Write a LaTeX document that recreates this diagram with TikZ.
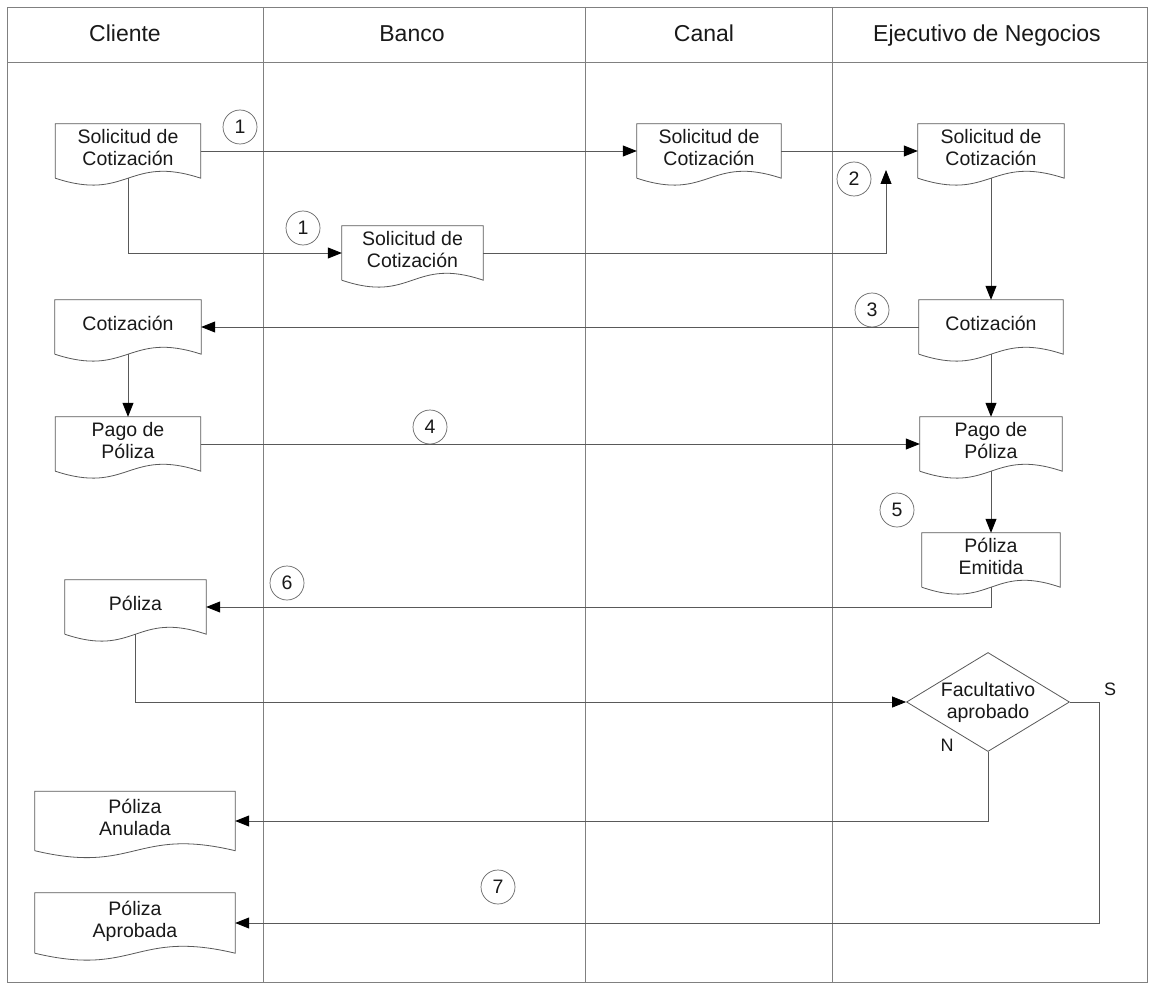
\documentclass[tikz,border=0pt]{standalone}
\usepackage{fontspec}
\setmainfont{Liberation Sans}
\usetikzlibrary{arrows.meta, positioning, shapes.geometric, calc}

\newcommand{\bodyfont}{\fontsize{19.5}{22}\selectfont}
\newcommand{\headfont}{\fontsize{23}{26}\selectfont}
\newcommand{\markfont}{\fontsize{18}{20}\selectfont}

\begin{document}
\begin{tikzpicture}[x=1pt, y=-1pt,
  lane/.style     = {draw=black!50, line width=0.8pt},
  doc/.style      = {minimum width=#1, minimum height=54pt, inner sep=0pt,
                     text depth=8pt, align=center, font=\bodyfont},
  docline/.style  = {draw=black!65, line width=0.8pt},
  decision/.style = {draw=black!65, line width=0.8pt, diamond, aspect=1.65,
                     inner sep=0pt, minimum width=163pt, minimum height=99pt,
                     align=center, font=\bodyfont},
  arrow/.style    = {draw=black!65, line width=0.8pt,
                     -{Triangle[length=14pt, width=11pt, color=black]}},
  num/.style      = {draw=black!60, line width=0.7pt, circle, minimum size=34pt,
                     inner sep=0pt, font=\bodyfont},
  head/.style     = {font=\headfont, anchor=base},
  every node/.style = {text=black!90},
]
\useasboundingbox (0,0) rectangle (1150,987);
\fill[white] (0,0) rectangle (1150,987);

% lanes
\draw[lane] (7,7) rectangle (1147,982);
\draw[lane] (7,62) -- (1147,62);
\foreach \x in {263,585,832}
  \draw[lane] (\x,7) -- (\x,982);

\node[head] (hCli) at (125,42)  {Cliente};
\node[head] (hBan) at (412,42)  {Banco};
\node[head] (hCan) at (704,42)  {Canal};
\node[head] (hEje) at (987,42)  {Ejecutivo de Negocios};

% documents
\node[doc=145pt] (cSol)  at (128,151)   {Solicitud de\\Cotización};
\node[doc=141pt] (bSol)  at (412.5,253) {Solicitud de\\Cotización};
\node[doc=144pt] (kSol)  at (709,151)   {Solicitud de\\Cotización};
\node[doc=146pt] (eSol)  at (991,151)   {Solicitud de\\Cotización};
\node[doc=146pt] (cCot)  at (128,327)   {Cotización};
\node[doc=144pt] (eCot)  at (991,327)   {Cotización};
\node[doc=145pt] (cPago) at (128,444)   {Pago de\\Póliza};
\node[doc=142pt] (ePago) at (991,444)   {Pago de\\Póliza};
\node[doc=138pt] (eEmi)  at (991,560)   {Póliza\\Emitida};
\node[doc=141pt] (cPol)  at (135.5,607) {Póliza};
\node[doc=200pt, minimum height=59pt] (cAnu) at (135,821) {Póliza\\Anulada};
\node[doc=200pt, minimum height=60pt] (cApr) at (135,923) {Póliza\\Aprobada};

\foreach \d in {cSol,bSol,kSol,eSol,cCot,eCot,cPago,ePago,eEmi,cPol,cAnu,cApr}
  \draw[docline] (\d.south west) -- (\d.north west) -- (\d.north east)
    -- (\d.south east)
    .. controls ($(\d.south)+(0,-24)$) and ($(\d.south)+(0,24)$) .. (\d.south west);

% decision
\node[decision] (dec) at (988,702) {Facultativo\\aprobado};
\node[font=\markfont] (lblS) at (1110,689) {S};
\node[font=\markfont] (lblN) at (947,745)  {N};

% step numbers
\node[num] (n1a) at (240,127) {1};
\node[num] (n1b) at (303,228) {1};
\node[num] (n2)  at (854,179) {2};
\node[num] (n3)  at (872,310) {3};
\node[num] (n4)  at (430,427) {4};
\node[num] (n5)  at (897,510) {5};
\node[num] (n6)  at (287,583) {6};
\node[num] (n7)  at (498,887) {7};

% flows
\coordinate (m2)    at (886,170);
\coordinate (sTurn) at (1099,702);

\draw[arrow] (cSol.east)  -- (kSol.west);
\draw[arrow] (cSol.south) |- (bSol.west);
\draw[arrow] (bSol.east)  -| (m2);
\draw[arrow] (kSol.east)  -- (eSol.west);
\draw[arrow] (eSol.south) -- (eCot.north);
\draw[arrow] (eCot.west)  -- (cCot.east);
\draw[arrow] (cCot.south) -- (cPago.north);
\draw[arrow] (cPago.east) -- (ePago.west);
\draw[arrow] (eCot.south) -- (ePago.north);
\draw[arrow] (ePago.south) -- (eEmi.north);
\draw[arrow] (eEmi.south) |- (cPol.east);
\draw[arrow] (cPol.south) |- (dec.west);
\draw[arrow] (dec.south)  |- (cAnu.east);
\draw[arrow] (dec.east) -- (sTurn) |- (cApr.east);

\end{tikzpicture}
\end{document}
